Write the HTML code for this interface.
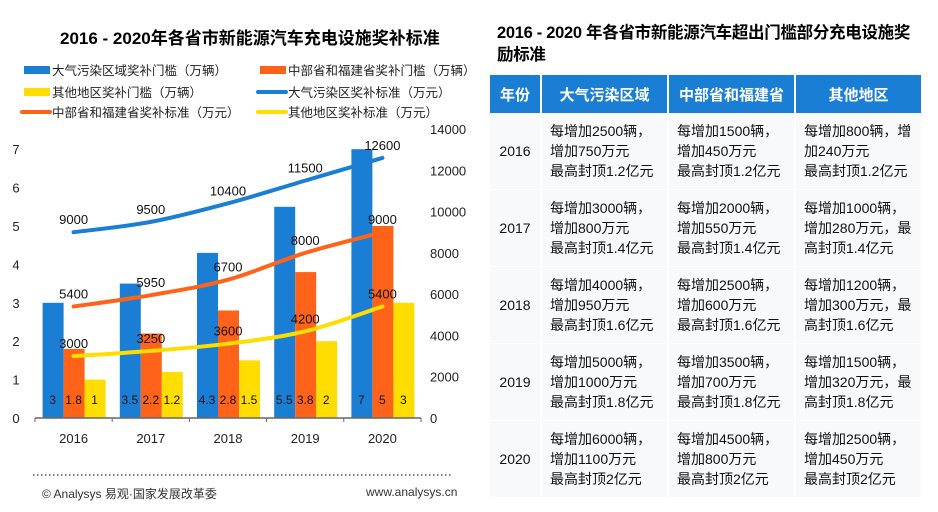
<!DOCTYPE html>
<html><head><meta charset="utf-8"><style>
body{margin:0;width:938px;height:512px;background:#fff;font-family:"Liberation Sans","Noto Sans CJK SC",sans-serif;overflow:hidden;position:relative}
.t{position:absolute;white-space:nowrap}
table{position:absolute;left:490px;top:75px;border-collapse:collapse;font-size:14px;color:#111;table-layout:fixed;width:432px}
th{background:#1a7fd4;color:#fff;font-size:15px;height:38px;border-right:2px solid #fff;text-align:center;padding:0}
td{height:76px;vertical-align:middle;padding:0 0 0 8px;line-height:20px;background:#f7f9fb;border-right:2px solid #fff;border-bottom:1px solid #fff;white-space:nowrap;overflow:hidden}
td.y{text-align:center;padding:0}
</style></head><body>
<div class="t" style="left:60px;top:24px;font-size:17px;font-weight:bold">2016 - 2020年各省市新能源汽车充电设施奖补标准</div>
<div class="t" style="left:497px;top:22px;font-size:16.5px;font-weight:bold;line-height:22px;letter-spacing:-0.3px">2016 - 2020 年各省市新能源汽车超出门槛部分充电设施奖<br>励标准</div>
<svg id="c" width="480" height="512" style="position:absolute;left:0;top:0"></svg>
<table>
<colgroup><col style="width:51px"><col style="width:127px"><col style="width:127px"><col style="width:127px"></colgroup>
<tr><th>年份</th><th>大气污染区域</th><th>中部省和福建省</th><th>其他地区</th></tr>
<tr><td class="y">2016</td><td>每增加2500辆，<br>增加750万元<br>最高封顶1.2亿元</td><td>每增加1500辆，<br>增加450万元<br>最高封顶1.2亿元</td><td>每增加800辆，增<br>加240万元<br>最高封顶1.2亿元</td></tr>
<tr><td class="y">2017</td><td>每增加3000辆，<br>增加800万元<br>最高封顶1.4亿元</td><td>每增加2000辆，<br>增加550万元<br>最高封顶1.4亿元</td><td>每增加1000辆，<br>增加280万元，最<br>高封顶1.4亿元</td></tr>
<tr><td class="y">2018</td><td>每增加4000辆，<br>增加950万元<br>最高封顶1.6亿元</td><td>每增加2500辆，<br>增加600万元<br>最高封顶1.6亿元</td><td>每增加1200辆，<br>增加300万元，最<br>高封顶1.6亿元</td></tr>
<tr><td class="y">2019</td><td>每增加5000辆，<br>增加1000万元<br>最高封顶1.8亿元</td><td>每增加3500辆，<br>增加700万元<br>最高封顶1.8亿元</td><td>每增加1500辆，<br>增加320万元，最<br>高封顶1.8亿元</td></tr>
<tr><td class="y">2020</td><td>每增加6000辆，<br>增加1100万元<br>最高封顶2亿元</td><td>每增加4500辆，<br>增加800万元<br>最高封顶2亿元</td><td>每增加2500辆，<br>增加450万元<br>最高封顶2亿元</td></tr>
</table>
<div class="t" style="left:42px;top:485px;font-size:12px;color:#333">© Analysys 易观·国家发展改革委</div>
<div class="t" style="left:366px;top:485px;font-size:12px;color:#333">www.analysys.cn</div>
<script>
const years=['2016','2017','2018','2019','2020'];
const barBlue=[3,3.5,4.3,5.5,7];
const barOrange=[1.8,2.2,2.8,3.8,5];
const barYellow=[1,1.2,1.5,2,3];
const lineBlue=[9000,9500,10400,11500,12600];
const lineOrange=[5400,5950,6700,8000,9000];
const lineYellow=[3000,3250,3600,4200,5400];
const leftTicks=[0,1,2,3,4,5,6,7];
const rightTicks=[0,2000,4000,6000,8000,10000,12000,14000];
const svg=document.getElementById('c');const NS='http://www.w3.org/2000/svg';
function mk(t,a,txt){const e=document.createElementNS(NS,t);for(const k in a)e.setAttribute(k,a[k]);if(txt!==undefined)e.textContent=txt;svg.appendChild(e);return e;}
const X0=35,X1=421,Y0=418;
const yL=v=>Y0-v*38.4, yR=v=>Y0-v*(289/14000);
const cw=(X1-X0)/years.length, cx=i=>X0+cw*(i+0.5);
const B='#1a7fd4',O='#ff6319',Yc='#ffdd00';
const leg=[[22,70,B,'大气污染区域奖补门槛（万辆）',0],[258,70,O,'中部省和福建省奖补门槛（万辆）',0],[22,92,Yc,'其他地区奖补门槛（万辆）',0],[258,92,B,'大气污染区奖补标准（万元）',1],[22,112,O,'中部省和福建省奖补标准（万元）',1],[258,112,Yc,'其他地区奖补标准（万元）',1]];
leg.forEach(l=>{let e;if(l[4])e=mk('line',{x1:l[0],x2:l[0]+28,y1:l[1],y2:l[1],stroke:l[2],'stroke-width':4,'stroke-linecap':'round'});else e=mk('rect',{x:l[0]+2,y:l[1]-4,width:26,height:8,fill:l[2]});

const t=mk('text',{x:l[0]+30,y:l[1]+5,'font-size':12.5,fill:'#222'},l[3]);
});
leftTicks.forEach(v=>{const t=mk('text',{x:16,y:yL(v)+5,'font-size':13,'text-anchor':'middle',fill:'#222'},v);});
rightTicks.forEach(v=>{const t=mk('text',{x:430,y:yR(v)+5,'font-size':13,fill:'#222'},v);});
const bw=20;
[[barBlue,B,-1],[barOrange,O,0],[barYellow,Yc,1]].forEach(s=>{s[0].forEach((v,i)=>{const x=cx(i)+s[2]*21-bw/2;
const r=mk('rect',{x:x,y:yL(v),width:bw+1,height:Y0-yL(v),fill:s[1]});
const t=mk('text',{x:x+bw/2,y:404,'font-size':12,'text-anchor':'middle',fill:'#111'},v);});});
mk('line',{x1:X0,x2:X1,y1:Y0,y2:Y0,stroke:'#666','stroke-width':1.5});
for(let i=0;i<=years.length;i++)mk('line',{x1:X0+cw*i,x2:X0+cw*i,y1:Y0,y2:Y0+4,stroke:'#666'});
years.forEach((y,i)=>{const t=mk('text',{x:cx(i),y:443,'font-size':13,'text-anchor':'middle',fill:'#222'},y);});
[[lineBlue,B],[lineOrange,O],[lineYellow,Yc]].forEach(s=>{const pts=s[0].map((v,i)=>[cx(i),yR(v)]);
let d='M'+pts[0][0]+','+pts[0][1];
for(let i=1;i<pts.length;i++){const p0=pts[Math.max(0,i-2)],p=pts[i-1],q=pts[i],q2=pts[Math.min(pts.length-1,i+1)];
const c1=[p[0]+(q[0]-p0[0])/6,p[1]+(q[1]-p0[1])/6],c2=[q[0]-(q2[0]-p[0])/6,q[1]-(q2[1]-p[1])/6];
d+=` C${c1[0]},${c1[1]} ${c2[0]},${c2[1]} ${q[0]},${q[1]}`;}
const p=mk('path',{d:d,fill:'none',stroke:s[1],'stroke-width':4,'stroke-linecap':'round'});
s[0].forEach((v,i)=>{const t=mk('text',{x:cx(i),y:yR(v)-8,'font-size':13,'text-anchor':'middle',fill:'#111'},v);});});
mk('line',{x1:33,x2:452,y1:475,y2:475,stroke:'#555','stroke-width':1.5,'stroke-dasharray':'1.5,2.5'});
</script>
</body></html>
